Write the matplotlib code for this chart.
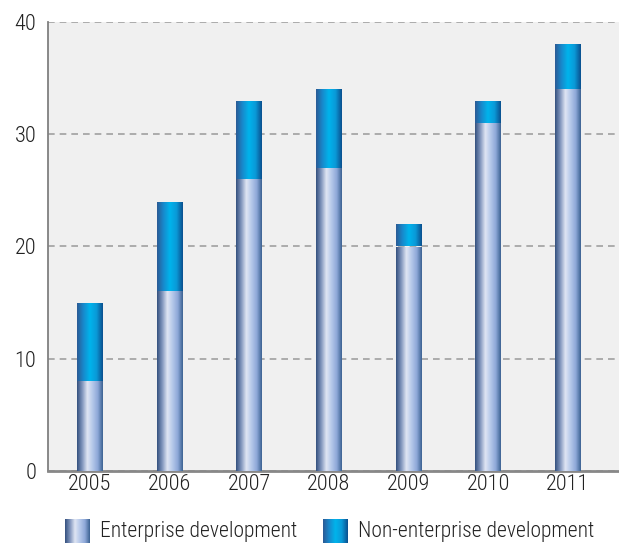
import numpy as np
import matplotlib.pyplot as plt
from matplotlib.colors import LinearSegmentedColormap
from matplotlib import font_manager

years = ["2005", "2006", "2007", "2008", "2009", "2010", "2011"]
enterprise = [8, 16, 26, 27, 20, 31, 34]
non_enterprise = [7, 8, 7, 7, 2, 2, 4]
legend_labels = ["Enterprise development", "Non-enterprise development"]

# pick a narrow sans family from what is installed
names = {f.name for f in font_manager.fontManager.ttflist}
font = "DejaVu Sans"
for cand in ["Roboto Condensed", "Liberation Sans Narrow", "Archivo Narrow", "Barlow Semi Condensed"]:
    if cand in names:
        font = cand
        break
plt.rcParams["font.family"] = [font, "DejaVu Sans"]
plt.rcParams["font.weight"] = "light"

# horizontal gradients for the two segments
ent_cmap = LinearSegmentedColormap.from_list(
    "ent", ["#34507e", "#7f94bc", "#dfe5f3", "#b5c8ea", "#8ea8d8", "#3c6292"])
non_cmap = LinearSegmentedColormap.from_list(
    "non", ["#2b5a94", "#1889cc", "#00b4ec", "#0a9ad8", "#0a4f8e"])
grad = np.linspace(0, 1, 256).reshape(1, -1)

fig = plt.figure(figsize=(6.19, 5.45), dpi=100)
ax = fig.add_axes([48 / 619, 74 / 545, 571 / 619, 449 / 545])
ax.set_facecolor("#f0f0f0")

x = np.arange(len(years))
w = 0.326
b1 = ax.bar(x, enterprise, w, color="none", zorder=3)
b2 = ax.bar(x, non_enterprise, w, bottom=enterprise, color="none", zorder=3)


def fill_gradient(bars, cmap):
    for p in bars:
        x0, y0 = p.get_x(), p.get_y()
        im = ax.imshow(grad, cmap=cmap, aspect="auto", zorder=3,
                       extent=[x0, x0 + p.get_width(), y0, y0 + p.get_height()])
        im.set_clip_path(p)


fill_gradient(b1, ent_cmap)
fill_gradient(b2, non_cmap)

ax.set_xlim(-0.527, 6.64)
ax.set_ylim(0, 40)
ax.set_yticks([0, 10, 20, 30, 40])
ax.set_xticks(x)
ax.set_xticklabels(years)
ax.tick_params(axis="both", length=0, labelsize=16, colors="#222222")
ax.tick_params(axis="y", pad=8.5)
ax.tick_params(axis="x", pad=2.5)
ax.yaxis.grid(True, linestyle=(0, (4, 3)), color="#a0a0a0", linewidth=1.2)
ax.set_axisbelow(True)
for s in ["top", "right"]:
    ax.spines[s].set_visible(False)
ax.spines["left"].set_color("#808080")
ax.spines["left"].set_linewidth(1.3)
ax.spines["bottom"].set_color("#888888")
ax.spines["bottom"].set_linewidth(2)

# legend swatches and labels
swatches = [(65, ent_cmap), (323, non_cmap)]
label_x = [100, 358]
for (sx, cmap), lx, lab in zip(swatches, label_x, legend_labels):
    sax = fig.add_axes([sx / 619, 2 / 545, 25 / 619, 24 / 545])
    sax.imshow(grad, cmap=cmap, aspect="auto")
    sax.axis("off")
    fig.text(lx / 619, 13 / 545, lab, fontsize=15.5, color="#222222", va="center")

fig.savefig("out.png", dpi=100, facecolor="white")
